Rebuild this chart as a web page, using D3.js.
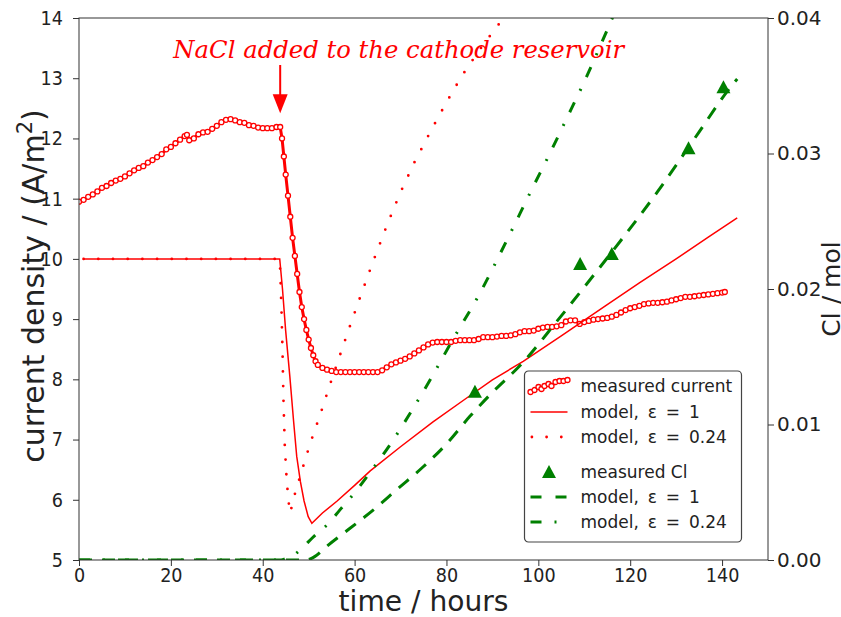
<!DOCTYPE html>
<html>
<head>
<meta charset="utf-8">
<script src="https://cdn.jsdelivr.net/npm/d3@7"></script>
<style>
  body { margin: 0; background: #fff; }
  svg { display: block; }
</style>
</head>
<body>
<svg id="chart" width="841" height="617"></svg>
<script>
// ---- measured current density (A/m^2) vs time (h)
const currentHours = [0,1,2,3,4,5,6,7,8,9,10,11,12,13,14,15,16,17,18,19,20,21,22,23,23.5,24,25,26,27,28,29,30,31,32,33,34,35,36,37,38,39,40,41,42,43,43.8,44.2,44.6,45,45.5,46,46.5,47,47.5,48,48.5,49,49.5,50,50.5,51,51.5,52,53,54,55,56,57,58,59,60,61,62,63,64,65,66,67,68,69,70,71,72,73,74,75,76,77,78,79,80,81,82,83,84,85,86,87,88,89,90,91,92,93,94,95,96,97,98,99,100,101,102,103,104,105,106,107,108,109,110,111,112,113,114,115,116,117,118,119,120,121,122,123,124,125,126,127,128,129,130,131,132,133,134,135,136,137,138,139,140,140.6];
const currentDensity = [10.95,10.98,11.03,11.07,11.12,11.18,11.21,11.26,11.30,11.33,11.37,11.42,11.47,11.51,11.54,11.60,11.64,11.69,11.74,11.82,11.86,11.92,11.98,12.04,12.06,11.97,12.0,12.07,12.10,12.11,12.16,12.21,12.27,12.31,12.32,12.30,12.27,12.26,12.22,12.21,12.18,12.17,12.17,12.17,12.19,12.19,12.0,11.7,11.4,11.05,10.7,10.35,10.05,9.75,9.45,9.2,9.0,8.82,8.66,8.52,8.4,8.3,8.24,8.19,8.16,8.14,8.12,8.12,8.12,8.12,8.12,8.12,8.12,8.12,8.12,8.12,8.15,8.2,8.25,8.28,8.31,8.34,8.38,8.43,8.48,8.53,8.58,8.61,8.62,8.62,8.62,8.62,8.64,8.65,8.65,8.65,8.65,8.67,8.70,8.70,8.70,8.71,8.72,8.72,8.73,8.75,8.78,8.80,8.80,8.81,8.84,8.86,8.87,8.87,8.88,8.90,8.96,8.98,8.98,8.92,8.95,8.97,8.99,9.00,9.01,9.02,9.04,9.07,9.11,9.15,9.18,9.20,9.22,9.25,9.26,9.27,9.27,9.28,9.29,9.31,9.33,9.35,9.37,9.37,9.38,9.39,9.40,9.41,9.42,9.43,9.44,9.45];

// ---- model current, epsilon = 1
const modelHours1 = [1,43.7,44.3,45.0,45.9,46.7,47.4,48.2,49.0,49.9,50.7,53,56.2,60,63.4,70,77,84.4,90,96.7,105,115,122,130,137,143.3];
const modelCurrent1 = [10,10,9.5,8.8,8.05,7.32,6.72,6.3,5.98,5.72,5.61,5.78,5.98,6.24,6.48,6.88,7.29,7.69,7.99,8.3,8.72,9.24,9.6,10.0,10.36,10.68];

// ---- model current, epsilon = 0.24
const modelHours024 = [1,43.7,43.9,44.1,44.3,44.5,44.8,45.2,45.6,46.0,46.7,48.5,50.4,52.5,54.5,56.5,58.6,61,64,67,69.9,73,76.9,80,83.2,87,90.6,93,96];
const modelCurrent024 = [10,10,9.6,9.1,8.5,7.7,6.9,6.35,5.98,5.78,6.02,6.48,6.95,7.41,7.88,8.33,8.80,9.32,9.95,10.55,11.09,11.6,12.17,12.6,13.02,13.45,13.82,14.05,14.3];

// ---- measured chloride (mol)
const clHours = [86.2,109.1,116.0,132.7,140.3];
const clMeasured = [0.01242,0.02185,0.02258,0.03038,0.03489];

// ---- model chloride, epsilon = 1
const clModelHours1 = [0,49.5,50.5,51.3,53.9,59,64.1,69.2,75,80.1,85.1,89.5,96.7,104,111.3,118,126,134,142.8,143.3];
const clModel1 = [0,0,0.0001,0.00025,0.001,0.00234,0.0037,0.0052,0.0069,0.0086,0.0106,0.0122,0.0146,0.0176,0.0207,0.0236,0.0272,0.0311,0.0353,0.0355];

// ---- model chloride, epsilon = 0.24
const clModelHours024 = [0,44,45,46.5,48.5,51,54.6,56.8,60.1,63,67.7,72.4,76.8,81.1,87.3,93,98.8,102.5,106.2,110,115.6,118];
const clModel024 = [0,0,0.0001,0.0003,0.00086,0.0017,0.0028,0.0037,0.005,0.0063,0.0085,0.011,0.0135,0.0161,0.0197,0.0235,0.0275,0.030,0.0326,0.0353,0.0396,0.0415];

// ---- axes
const xTicks = [0,20,40,60,80,100,120,140];
const leftTicks = [5,6,7,8,9,10,11,12,13,14];
const rightTicks = [0,0.01,0.02,0.03,0.04];

const legendLabels = ["measured current","model, \u03b5 = 1","model, \u03b5 = 0.24","measured Cl","model, \u03b5 = 1","model, \u03b5 = 0.24"];
const note = { text: "NaCl added to the cathode reservoir", tx: 69.6, ty: 13.34, fromY: 13.22, ax: 43.8, ay: 12.42 };

const RED = "#ff0000", GREEN = "#008000", INK = "#222";
const DOTS = "0 14.7", DASH = "13 10", DASHDOT = "11 13 2 13";

const svg = d3.select("#chart");
const x = d3.scaleLinear().domain([0,150]).range([79,768]);
const yL = d3.scaleLinear().domain([5,14]).range([560,18]);
const yR = d3.scaleLinear().domain([0,0.04]).range([560,18]);
const [x0,x1] = x.range(), [yb,yt] = yL.range();

svg.append("defs").append("clipPath").attr("id","plot-area")
  .append("rect").attr("x",x0).attr("y",yt).attr("width",x1-x0).attr("height",yb-yt);

const zip = (a,b) => a.map((v,i) => [v,b[i]]);
const lineL = d3.line().x(d => x(d[0])).y(d => yL(d[1]));
const lineR = d3.line().x(d => x(d[0])).y(d => yR(d[1])).curve(d3.curveMonotoneX);

const plot = svg.append("g").attr("clip-path","url(#plot-area)");

// current: measured with open markers
const measured = zip(currentHours,currentDensity);
plot.append("path").attr("d",lineL(measured)).attr("fill","none")
  .attr("stroke",RED).attr("stroke-width",3).attr("stroke-linejoin","round");
plot.append("g").selectAll("circle").data(measured).join("circle")
  .attr("cx",d => x(d[0])).attr("cy",d => yL(d[1])).attr("r",2.5)
  .attr("fill","#fff").attr("stroke",RED).attr("stroke-width",1.3);

// current: models
plot.append("path").attr("d",lineL(zip(modelHours1,modelCurrent1))).attr("fill","none")
  .attr("stroke",RED).attr("stroke-width",1.5);
plot.append("path").attr("d",lineL(zip(modelHours024,modelCurrent024))).attr("fill","none")
  .attr("stroke",RED).attr("stroke-width",2.8).attr("stroke-linecap","round")
  .attr("stroke-dasharray",DOTS);

// chloride: models
plot.append("path").attr("d",lineR(zip(clModelHours1,clModel1))).attr("fill","none")
  .attr("stroke",GREEN).attr("stroke-width",3).attr("stroke-dasharray",DASH);
plot.append("path").attr("d",lineR(zip(clModelHours024,clModel024))).attr("fill","none")
  .attr("stroke",GREEN).attr("stroke-width",3).attr("stroke-dasharray",DASHDOT);

// chloride: measured
const tri = "M0,-7L7,6L-7,6Z";
plot.append("g").selectAll("path").data(zip(clHours,clMeasured)).join("path")
  .attr("d",tri).attr("transform",d => `translate(${x(d[0])},${yR(d[1])})`).attr("fill",GREEN);

// axes
const SX = 0.88;
const gL = svg.append("g").attr("transform",`translate(${x0},0)`)
  .call(d3.axisLeft(yL).tickValues(leftTicks).tickFormat(d3.format("d")).tickSize(6).tickSizeOuter(0));
const gB = svg.append("g").attr("transform",`translate(0,${yb})`)
  .call(d3.axisBottom(x).tickValues(xTicks).tickFormat(d3.format("d")).tickSize(6).tickSizeOuter(0));
const gR = svg.append("g").attr("transform",`translate(${x1},0)`)
  .call(d3.axisRight(yR).tickValues(rightTicks).tickFormat(d3.format(".2f")).tickSize(6).tickSizeOuter(0));
[gL,gB,gR].forEach(g => {
  g.select(".domain").remove();
  g.selectAll("line").attr("stroke","#333");
  g.selectAll("text").attr("font-family","DejaVu Sans").attr("font-size",20).attr("fill",INK);
});
gL.selectAll("text").attr("x",-16/SX).attr("transform",`scale(${SX},1)`);
gB.selectAll("text").attr("y",7.8).attr("transform",`scale(${SX},1)`);
gR.selectAll("text").attr("x",9);

svg.append("rect").attr("x",x0).attr("y",yt).attr("width",x1-x0).attr("height",yb-yt)
  .attr("fill","none").attr("stroke","#333").attr("stroke-width",1);

// axis titles
const yt1 = svg.append("text").attr("transform",`translate(44,${(yt+yb)/2 - 3}) rotate(-90)`)
  .attr("text-anchor","middle").attr("font-family","DejaVu Sans").attr("font-size",30).attr("fill",INK);
yt1.append("tspan").text("current density / (A/m");
yt1.append("tspan").attr("font-size",21).attr("dy",-12).text("2");
yt1.append("tspan").attr("dy",12).text(")");

svg.append("text").attr("transform",`translate(${(x0+x1)/2},611) scale(0.97,1)`)
  .attr("text-anchor","middle").attr("font-family","DejaVu Sans").attr("font-size",29).attr("fill",INK)
  .text("time / hours");

svg.append("text").attr("transform",`translate(840,${(yt+yb)/2}) rotate(-90)`)
  .attr("text-anchor","middle").attr("font-family","DejaVu Sans").attr("font-size",25).attr("fill",INK)
  .text("Cl / mol");

// annotation
svg.append("text").attr("x",x(note.tx)).attr("y",yL(note.ty)).attr("text-anchor","middle")
  .attr("font-family","DejaVu Serif").attr("font-style","italic").attr("font-size",24.3).attr("fill",RED)
  .text(note.text);
const ax = x(note.ax), ay = yL(note.ay);
svg.append("line").attr("x1",ax).attr("x2",ax).attr("y1",yL(note.fromY)).attr("y2",ay-17)
  .attr("stroke",RED).attr("stroke-width",2);
svg.append("path").attr("d",`M${ax},${ay}L${ax-7.5},${ay-19}L${ax+7.5},${ay-19}Z`).attr("fill",RED);

// legend
const lg = svg.append("g").attr("transform","translate(524.5,371)");
lg.append("rect").attr("width",217).attr("height",171).attr("rx",4)
  .attr("fill","#fff").attr("stroke","#444").attr("stroke-width",1.2);
const rowY = [15,41,66,101,126,151];
const hx0 = 6, hx1 = 43;
lg.selectAll("text.lbl").data(legendLabels).join("text").attr("class","lbl")
  .attr("x",56).attr("y",(d,i) => rowY[i]).attr("dy","0.36em")
  .attr("font-family","DejaVu Sans").attr("font-size",17).attr("fill",INK)
  .attr("word-spacing",d => d.startsWith("model") ? 3.5 : 0).text(d => d);
// legend glyph for the measured series: a short wiggle with markers
const wiggle = [[0,6],[4,4],[8,1],[11,3],[14,0],[18,-2],[21,0],[25,-4],[29,-5],[33,-5],[37,-6]];
const wg = lg.append("g").attr("transform",`translate(${hx0},${rowY[0]})`);
wg.append("path").attr("d",d3.line()(wiggle)).attr("fill","none").attr("stroke",RED).attr("stroke-width",3);
wg.selectAll("circle").data(wiggle).join("circle").attr("cx",d => d[0]).attr("cy",d => d[1]).attr("r",2.5)
  .attr("fill","#fff").attr("stroke",RED).attr("stroke-width",1.3);
lg.append("line").attr("x1",hx0).attr("x2",hx1).attr("y1",rowY[1]).attr("y2",rowY[1]).attr("stroke",RED).attr("stroke-width",1.5);
lg.append("line").attr("x1",hx0+1.4).attr("x2",hx1).attr("y1",rowY[2]).attr("y2",rowY[2]).attr("stroke",RED)
  .attr("stroke-width",2.8).attr("stroke-linecap","round").attr("stroke-dasharray",DOTS);
lg.append("path").attr("d",tri).attr("transform",`translate(${(hx0+hx1)/2},${rowY[3]})`).attr("fill",GREEN);
lg.append("line").attr("x1",hx0).attr("x2",hx1).attr("y1",rowY[4]).attr("y2",rowY[4]).attr("stroke",GREEN)
  .attr("stroke-width",3).attr("stroke-dasharray","11 14");
lg.append("line").attr("x1",hx0).attr("x2",hx1).attr("y1",rowY[5]).attr("y2",rowY[5]).attr("stroke",GREEN)
  .attr("stroke-width",3).attr("stroke-dasharray",DASHDOT);
</script>
</body>
</html>
